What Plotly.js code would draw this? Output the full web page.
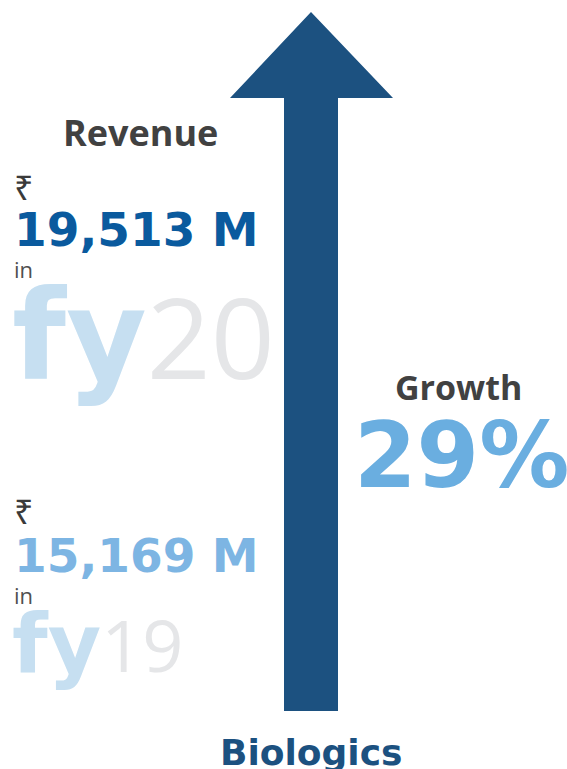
<!DOCTYPE html>
<html>
<head>
<meta charset="utf-8">
<script src="https://cdn.plot.ly/plotly-3.0.1.min.js"></script>
<style>html,body{margin:0;padding:0;background:#fff;}#chart{width:567px;height:769px;}</style>
</head>
<body>
<div id="chart"></div>
<script>
// ---- data ----
const segment = 'Biologics';
const currency = '₹';
const years = ['fy19', 'fy20'];
const yearPrefix = ['fy', 'fy'];
const yearSuffix = ['19', '20'];
const revenueM = [15169, 19513];
const growthPct = [29];
const headings = ['Revenue', 'Growth'];

// ---- style ----
const W = 567, H = 769;
const arrowColor = '#1c5180';
const darkGray = '#414141';
const valueColors = ['#7db5e3', '#0a5a9e'];
const fyBlue = '#c6dff1';
const fyGray = '#e5e6e8';
const heavy = 'DejaVu Sans';
const sans = 'Open Sans';

// arrow geometry (pixel layout)
const ar = {cx: 311, tip: 12, headBase: 98, headL: 230, headR: 393, shaftL: 284, shaftR: 338, bottom: 711};
const arrowPath = `M ${ar.cx} ${ar.tip} L ${ar.headR} ${ar.headBase} L ${ar.shaftR} ${ar.headBase} L ${ar.shaftR} ${ar.bottom} L ${ar.shaftL} ${ar.bottom} L ${ar.shaftL} ${ar.headBase} L ${ar.headL} ${ar.headBase} Z`;

// per-year text blocks: [fy19, fy20]
const blockY = {cur: [511, 187], val: [555, 229.5], inn: [595, 269], fy: [644, 335]};
const fySize = [82, 124];
const fyDigitSize = [72, 112];

const ann = [];
function add(text, x, y, font, opts) {
  ann.push(Object.assign({
    text: text, x: x, y: y, xref: 'x', yref: 'y', showarrow: false,
    xanchor: 'left', yanchor: 'middle', font: font
  }, opts || {}));
}

add(headings[0], 140, 132, {family: sans, size: 36, color: darkGray, weight: 700}, {xanchor: 'center'});
add(headings[1], 458, 387, {family: sans, size: 34, color: darkGray, weight: 700}, {xanchor: 'center'});
add(growthPct[0] + '%', 461, 455.5, {family: heavy, size: 90, color: '#6aaee0', weight: 900}, {xanchor: 'center'});
add(segment, 311, 752, {family: heavy, size: 36, color: arrowColor, weight: 900}, {xanchor: 'center'});

for (let i = 0; i < years.length; i++) {
  add(currency, 12, blockY.cur[i], {family: sans, size: 34, color: '#3a3a3a'});
  add(revenueM[i].toLocaleString('en-US') + ' M', 12, blockY.val[i],
      {family: heavy, size: 47, color: valueColors[i], weight: 900});
  add('in', 12, blockY.inn[i], {family: sans, size: 22, color: '#505050'});
  const t = `<span style="font-family:'${heavy}';font-weight:900;fill:${fyBlue}">${yearPrefix[i]}</span>` +
            `<span style="font-family:'${sans}';font-weight:400;font-size:${fyDigitSize[i]}px;fill:${fyGray}">${yearSuffix[i]}</span>`;
  add(t, 10, blockY.fy[i], {family: sans, size: fySize[i], color: fyBlue});
}

const layout = {
  width: W, height: H,
  margin: {l: 0, r: 0, t: 0, b: 0},
  paper_bgcolor: '#ffffff', plot_bgcolor: '#ffffff',
  showlegend: false,
  xaxis: {range: [0, W], visible: false, fixedrange: true},
  yaxis: {range: [H, 0], visible: false, fixedrange: true},
  shapes: [{type: 'path', path: arrowPath, xref: 'x', yref: 'y', fillcolor: arrowColor, line: {width: 0}, layer: 'below'}],
  annotations: ann
};

Plotly.newPlot('chart', [{x: [], y: [], type: 'scatter'}], layout, {displayModeBar: false, staticPlot: true});
</script>
</body>
</html>
